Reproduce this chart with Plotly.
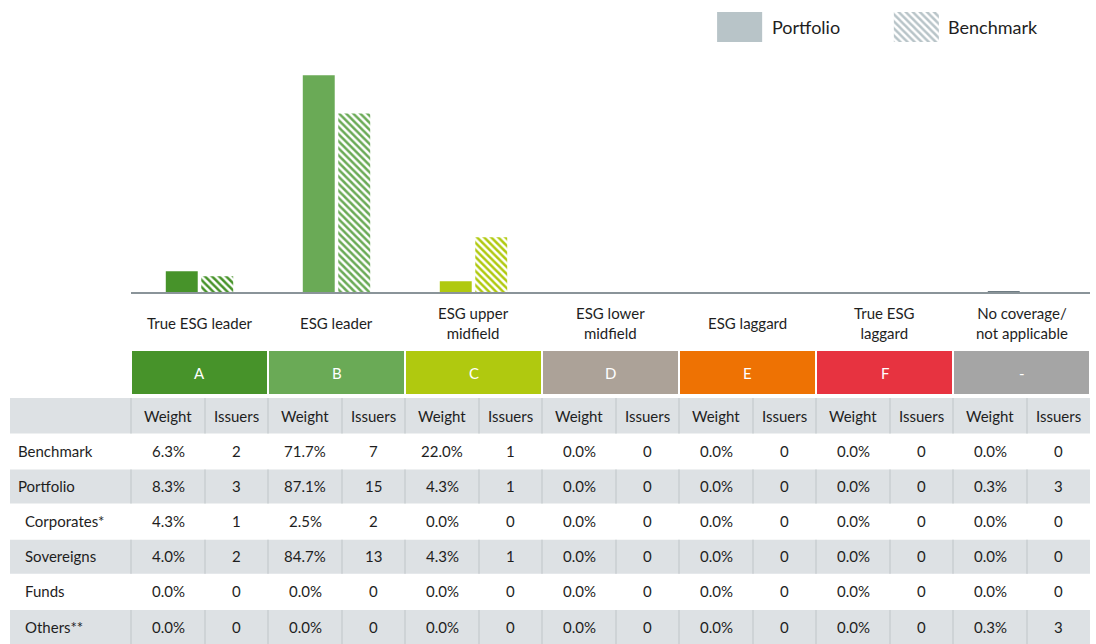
import plotly.graph_objects as go

# ---------------- data ----------------
rating_letters = ["A", "B", "C", "D", "E", "F", "-"]
category_labels = ["True ESG leader", "ESG leader", "ESG upper<br>midfield",
                   "ESG lower<br>midfield", "ESG laggard", "True ESG<br>laggard",
                   "No coverage/<br>not applicable"]
row_labels = ["Benchmark", "Portfolio", "Corporates*", "Sovereigns", "Funds", "Others**"]
row_indent = [False, False, True, True, True, True]

benchmark_weight = [6.3, 71.7, 22.0, 0.0, 0.0, 0.0, 0.0]
benchmark_issuers = [2, 7, 1, 0, 0, 0, 0]
portfolio_weight = [8.3, 87.1, 4.3, 0.0, 0.0, 0.0, 0.3]
portfolio_issuers = [3, 15, 1, 0, 0, 0, 3]
corporates_weight = [4.3, 2.5, 0.0, 0.0, 0.0, 0.0, 0.0]
corporates_issuers = [1, 2, 0, 0, 0, 0, 0]
sovereigns_weight = [4.0, 84.7, 4.3, 0.0, 0.0, 0.0, 0.0]
sovereigns_issuers = [2, 13, 1, 0, 0, 0, 0]
funds_weight = [0.0, 0.0, 0.0, 0.0, 0.0, 0.0, 0.0]
funds_issuers = [0, 0, 0, 0, 0, 0, 0]
others_weight = [0.0, 0.0, 0.0, 0.0, 0.0, 0.0, 0.3]
others_issuers = [0, 0, 0, 0, 0, 0, 3]

table_weights = [benchmark_weight, portfolio_weight, corporates_weight,
                 sovereigns_weight, funds_weight, others_weight]
table_issuers = [benchmark_issuers, portfolio_issuers, corporates_issuers,
                 sovereigns_issuers, funds_issuers, others_issuers]

# ---------------- styles ----------------
band_colors = ["#47932a", "#6aaa56", "#b0c90f", "#aca298", "#ee7203", "#e73340", "#a5a5a5"]
portfolio_bar_colors = ["#47932a", "#6aaa56", "#b0c90f", "#aca298", "#ee7203", "#e73340", "#6f7c83"]
legend_grey = "#b8c4c8"
row_grey = "#dde1e4"
sep_grey = "#c9ced2"
text_col = "#1e1e1e"
FONT = "Lato"
FS = 15

W, H = 1096, 644
def fx(p):
    return p / W
def fy(p):
    return 1 - p / H

plot_left, plot_right = 131, 1090
group_w = (plot_right - plot_left) / 7
weight_w = 74
label_left = 10

x_idx = list(range(len(rating_letters)))

fig = go.Figure()
fig.add_trace(go.Bar(
    x=x_idx, y=portfolio_weight, name="Portfolio",
    marker=dict(color=portfolio_bar_colors, line=dict(width=0)),
    showlegend=False, hoverinfo="skip"))
fig.add_trace(go.Bar(
    x=x_idx, y=benchmark_weight, name="Benchmark",
    marker=dict(color="white", line=dict(width=0),
                pattern=dict(shape="\\", fgcolor=portfolio_bar_colors[:6] + [band_colors[6]],
                             bgcolor="white", size=5, solidity=0.5, fgopacity=1,
                             fillmode="replace")),
    showlegend=False, hoverinfo="skip"))

# legend swatches on an auxiliary axis
fig.add_trace(go.Bar(x=[0], y=[1], xaxis="x2", yaxis="y2", width=0.255,
                     marker=dict(color=legend_grey, line=dict(width=0)),
                     showlegend=False, hoverinfo="skip"))
fig.add_trace(go.Bar(x=[1], y=[1], xaxis="x2", yaxis="y2", width=0.255,
                     marker=dict(color="white", line=dict(width=0),
                                 pattern=dict(shape="\\", fgcolor=legend_grey, bgcolor="white",
                                              size=5, solidity=0.5, fgopacity=1,
                                              fillmode="replace")),
                     showlegend=False, hoverinfo="skip"))

shapes = []
annotations = []

# legend texts
annotations.append(dict(xref="paper", yref="paper", x=fx(770), y=fy(27), text="Portfolio",
                        showarrow=False, xanchor="left", yanchor="middle",
                        font=dict(family=FONT, size=18, color=text_col)))
annotations.append(dict(xref="paper", yref="paper", x=fx(946), y=fy(27), text="Benchmark",
                        showarrow=False, xanchor="left", yanchor="middle",
                        font=dict(family=FONT, size=18, color=text_col)))

# category labels and rating bands
for g in x_idx:
    g0 = plot_left + g * group_w
    annotations.append(dict(xref="x", yref="paper", x=g, y=fy(323), text=category_labels[g],
                            showarrow=False, xanchor="center", yanchor="middle",
                            font=dict(family=FONT, size=FS, color=text_col)))
    shapes.append(dict(type="rect", xref="paper", yref="paper",
                       x0=fx(g0 + 1), x1=fx(g0 + group_w - 1), y0=fy(394), y1=fy(351),
                       fillcolor=band_colors[g], line=dict(width=0), layer="above"))
    annotations.append(dict(xref="x", yref="paper", x=g, y=fy(373), text=rating_letters[g],
                            showarrow=False, xanchor="center", yanchor="middle",
                            font=dict(family=FONT, size=FS, color="white")))

# table
header_top, header_bot = 398, 433.4
row_h = 35.1

def sep_lines(y0, y1):
    xs = [plot_left]
    for g in x_idx:
        g0 = plot_left + g * group_w
        xs.append(g0 + weight_w)
        if g < 6:
            xs.append(g0 + group_w)
    for xv in xs:
        shapes.append(dict(type="line", xref="paper", yref="paper",
                           x0=fx(xv), x1=fx(xv), y0=fy(y0), y1=fy(y1),
                           line=dict(color=sep_grey, width=1.5), layer="above"))

shapes.append(dict(type="rect", xref="paper", yref="paper", x0=fx(label_left), x1=fx(plot_right),
                   y0=fy(header_bot), y1=fy(header_top), fillcolor=row_grey,
                   line=dict(width=0), layer="below"))
sep_lines(header_top, header_bot)
for g in x_idx:
    g0 = plot_left + g * group_w
    annotations.append(dict(xref="paper", yref="paper", x=fx(g0 + weight_w / 2), y=fy((header_top + header_bot) / 2),
                            text="Weight", showarrow=False, xanchor="center", yanchor="middle",
                            font=dict(family=FONT, size=FS, color=text_col)))
    annotations.append(dict(xref="paper", yref="paper", x=fx(g0 + weight_w + (group_w - weight_w) / 2),
                            y=fy((header_top + header_bot) / 2),
                            text="Issuers", showarrow=False, xanchor="center", yanchor="middle",
                            font=dict(family=FONT, size=FS, color=text_col)))

for r, lab in enumerate(row_labels):
    y0 = header_bot + r * row_h
    y1 = y0 + row_h + (1 if r == len(row_labels) - 1 else 0)
    ymid = (y0 + y1) / 2
    if r % 2 == 1:
        shapes.append(dict(type="rect", xref="paper", yref="paper", x0=fx(label_left), x1=fx(plot_right),
                           y0=fy(y1), y1=fy(y0 + 1), fillcolor=row_grey, line=dict(width=0), layer="below"))
        sep_lines(y0 + 1, y1)
    annotations.append(dict(xref="paper", yref="paper", x=fx(23 if row_indent[r] else 16), y=fy(ymid),
                            text=lab, showarrow=False, xanchor="left", yanchor="middle",
                            font=dict(family=FONT, size=FS, color=text_col)))
    for g in x_idx:
        g0 = plot_left + g * group_w
        annotations.append(dict(xref="paper", yref="paper", x=fx(g0 + weight_w / 2), y=fy(ymid),
                                text=f"{table_weights[r][g]:.1f}%", showarrow=False,
                                xanchor="center", yanchor="middle",
                                font=dict(family=FONT, size=FS, color=text_col)))
        annotations.append(dict(xref="paper", yref="paper", x=fx(g0 + weight_w + (group_w - weight_w) / 2),
                                y=fy(ymid), text=str(table_issuers[r][g]), showarrow=False,
                                xanchor="center", yanchor="middle",
                                font=dict(family=FONT, size=FS, color=text_col)))

fig.update_layout(
    width=W, height=H,
    margin=dict(l=0, r=0, t=0, b=0),
    paper_bgcolor="white", plot_bgcolor="white",
    barmode="group", bargap=0.482, bargroupgap=0.1,
    xaxis=dict(domain=[fx(plot_left), fx(plot_right)], range=[-0.5, 6.5],
               showticklabels=False, showgrid=False, zeroline=False, ticks="",
               showline=True, linecolor="#8a9499", linewidth=2, fixedrange=True),
    yaxis=dict(domain=[fy(292), fy(68)], range=[0, 90], visible=False, showgrid=False,
               zeroline=False, fixedrange=True),
    xaxis2=dict(domain=[fx(651.25), fx(1004.75)], range=[-0.5, 1.5], visible=False,
                anchor="y2", fixedrange=True),
    yaxis2=dict(domain=[fy(42), fy(12)], range=[0, 1], visible=False, anchor="x2",
                fixedrange=True),
    shapes=shapes, annotations=annotations,
    font=dict(family=FONT, size=FS, color=text_col),
    showlegend=False,
)

fig.write_html("out.html", config={"displayModeBar": False},
               post_script="document.body.style.margin='0';document.body.style.padding='0';"
                           "document.body.style.overflow='hidden';")
